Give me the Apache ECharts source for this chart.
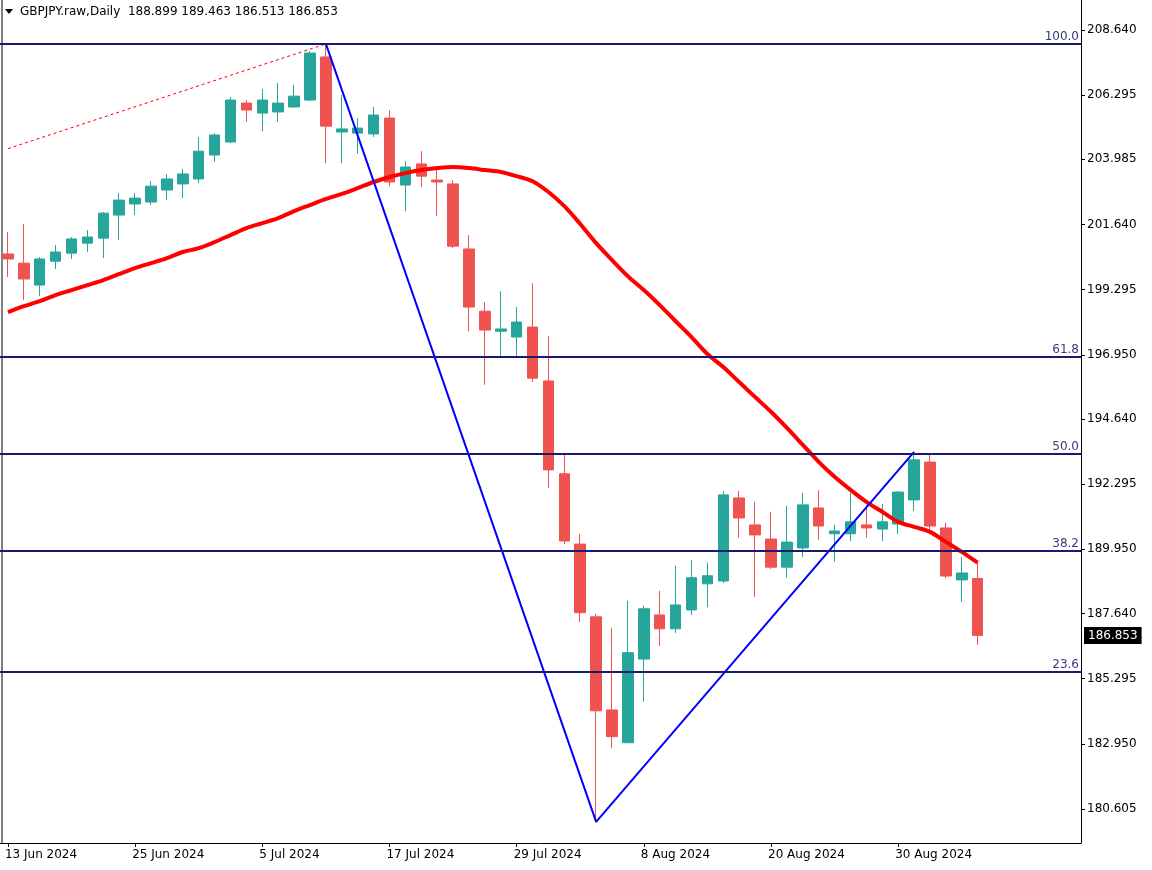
<!DOCTYPE html>
<html><head><meta charset="utf-8">
<script src="https://cdn.jsdelivr.net/npm/echarts@6/dist/echarts.min.js"></script>
<style>html,body{margin:0;padding:0;background:#fff}#c{width:1152px;height:870px}</style>
</head><body><div id="c"></div>
<script>
const dates = ['13 Jun 2024','14 Jun 2024','17 Jun 2024','18 Jun 2024','19 Jun 2024','20 Jun 2024','21 Jun 2024','24 Jun 2024','25 Jun 2024','26 Jun 2024','27 Jun 2024','28 Jun 2024',
'1 Jul 2024','2 Jul 2024','3 Jul 2024','4 Jul 2024','5 Jul 2024','8 Jul 2024','9 Jul 2024','10 Jul 2024','11 Jul 2024','12 Jul 2024','15 Jul 2024','16 Jul 2024','17 Jul 2024','18 Jul 2024','19 Jul 2024','22 Jul 2024','23 Jul 2024','24 Jul 2024','25 Jul 2024','26 Jul 2024','29 Jul 2024','30 Jul 2024','31 Jul 2024',
'1 Aug 2024','2 Aug 2024','5 Aug 2024','6 Aug 2024','7 Aug 2024','8 Aug 2024','9 Aug 2024','12 Aug 2024','13 Aug 2024','14 Aug 2024','15 Aug 2024','16 Aug 2024','19 Aug 2024','20 Aug 2024','21 Aug 2024','22 Aug 2024','23 Aug 2024','26 Aug 2024','27 Aug 2024','28 Aug 2024','29 Aug 2024','30 Aug 2024',
'2 Sep 2024','3 Sep 2024','4 Sep 2024','5 Sep 2024','6 Sep 2024'];
const padSlots = ['','','','','',''];
const opens  = [200.58,200.25,199.46,200.32,200.61,200.97,201.15,201.98,202.38,202.45,202.88,203.10,203.28,204.14,204.61,206.01,205.65,205.69,205.87,206.12,207.67,204.97,204.93,204.90,205.47,203.06,203.82,203.24,203.10,200.76,198.52,197.80,197.59,197.95,196.01,192.67,190.14,187.52,184.17,182.99,186.00,187.59,187.09,187.77,188.71,188.81,191.80,190.83,190.32,189.31,190.00,191.44,190.51,190.51,190.83,190.68,190.86,191.73,193.09,190.72,188.85,188.899];
const closes = [200.40,199.68,200.40,200.65,201.12,201.19,202.05,202.52,202.59,203.02,203.28,203.46,204.28,204.86,206.12,205.76,206.12,206.01,206.26,207.81,205.18,205.08,205.11,205.58,203.17,203.71,203.38,203.17,200.86,198.67,197.84,197.88,198.13,196.11,192.81,190.25,187.67,184.14,183.21,186.23,187.81,187.09,187.95,188.93,189.00,191.91,191.08,190.47,189.31,190.21,191.55,190.79,190.61,190.94,190.72,190.94,192.01,193.17,190.79,188.99,189.10,186.853];
const highs  = [201.37,201.66,200.47,200.90,201.19,201.44,202.09,202.77,202.77,203.20,203.46,203.64,204.79,204.93,206.23,206.12,206.52,206.73,206.66,207.88,208.14,206.30,205.47,205.87,205.76,203.92,204.28,203.60,203.24,201.26,198.85,199.24,198.67,199.53,197.62,193.35,190.51,187.63,187.12,188.10,187.92,188.46,189.36,189.57,189.47,192.05,192.05,191.66,191.30,191.51,191.98,192.08,190.83,191.98,191.55,191.58,192.05,193.45,193.35,190.90,189.67,189.463];
const lows   = [199.75,198.92,199.06,200.04,200.40,200.65,200.43,201.08,201.98,202.34,202.52,202.59,203.13,203.89,204.57,205.33,205.00,205.33,205.83,206.08,203.85,203.85,204.18,204.79,203.02,202.12,202.99,201.94,200.79,197.80,195.87,196.87,196.87,195.97,192.16,190.14,187.34,180.14,182.80,182.99,184.47,186.47,186.94,187.59,187.87,188.74,190.36,188.24,189.24,188.93,189.68,190.29,189.50,190.25,190.36,190.25,190.50,191.33,190.50,188.92,188.06,186.513];
const maValues = [198.49,198.70,198.88,199.10,199.28,199.46,199.64,199.86,200.07,200.25,200.43,200.65,200.79,201.01,201.26,201.51,201.69,201.87,202.12,202.34,202.56,202.74,202.95,203.17,203.35,203.49,203.60,203.67,203.71,203.67,203.60,203.53,203.38,203.20,202.81,202.30,201.66,200.97,200.36,199.78,199.28,198.74,198.16,197.59,196.98,196.51,195.97,195.43,194.90,194.32,193.71,193.10,192.56,192.09,191.66,191.30,190.94,190.76,190.58,190.22,189.86,189.47];
const fibNames  = ['100.0','61.8','50.0','38.2','23.6'];
const fibPrices = [208.136,196.872,193.381,189.890,185.545];
const zigIdx = [20,37,57];
const zigVal = [208.14,180.14,193.46];
const trendIdx = [0,20];
const trendVal = [204.37,208.14];
const yTicks = [208.640,206.295,203.985,201.640,199.295,196.950,194.640,192.295,189.950,187.640,185.295,182.950,180.605];
const lastPrice = 186.853;
const header = 'GBPJPY.raw,Daily  188.899 189.463 186.513 186.853';

const cats = dates.concat(padSlots);
const candle = opens.map((o,i)=>[o,closes[i],lows[i],highs[i]]);
const chart = echarts.init(document.getElementById('c'));
const font = 'DejaVu Sans, Liberation Sans, sans-serif';
const tickShow = (i)=> i%8===0 && i<dates.length;
chart.setOption({
  animation:false,
  backgroundColor:'#fff',
  grid:{left:-7,top:0,width:68*16,bottom:27},
  xAxis:{type:'category',data:cats,boundaryGap:true,
    axisLine:{lineStyle:{color:'#000',width:1}},
    axisTick:{show:true,interval:tickShow,length:4,lineStyle:{color:'#000'},alignWithLabel:true},
    axisLabel:{interval:tickShow,align:'left',color:'#000',fontSize:12,fontFamily:font,margin:6,padding:[0,0,0,-3]},
    splitLine:{show:false}},
  yAxis:{type:'value',position:'right',min:179.382,max:209.72,scale:true,
    axisLine:{show:true,lineStyle:{color:'#000'}},
    axisTick:{show:true,customValues:yTicks,length:4,inside:false,lineStyle:{color:'#000'}},
    axisLabel:{customValues:yTicks,color:'#000',fontSize:12,fontFamily:font,margin:6,formatter:v=>v.toFixed(3)},
    splitLine:{show:false}},
  graphic:[
    {type:'line',shape:{x1:2,y1:0,x2:2,y2:843},style:{stroke:'#000',lineWidth:1}},
    {type:'polygon',shape:{points:[[5,9],[13,9],[9,14]]},style:{fill:'#000'}},
    {type:'text',left:20,top:6,style:{text:header,fill:'#000',font:'12px '+font}}
  ],
  series:[
    {type:'candlestick',data:candle,barWidth:11,
      itemStyle:{color:'#26a69a',color0:'#ef5350',borderColor:'#26a69a',borderColor0:'#ef5350',borderWidth:1},
      markLine:{silent:true,symbol:'none',animation:false,
        data:fibPrices.map((p,i)=>({yAxis:p,label:{formatter:fibNames[i]}})).concat([
          {yAxis:lastPrice,lineStyle:{color:'rgba(0,0,0,0)',width:0},label:{position:'end',formatter:lastPrice.toFixed(3),color:'#fff',backgroundColor:'#000',padding:[3,4,2,4],fontSize:12,fontFamily:font,distance:3}}
        ]),
        lineStyle:{color:'#191970',width:2,type:'solid'},
        label:{position:'insideEndTop',color:'#3a3a78',fontSize:12,fontFamily:font,distance:[2,1]}}},
    {type:'line',data:maValues,symbol:'none',smooth:0.3,lineStyle:{color:'#ff0000',width:4},z:3},
    {type:'line',data:zigIdx.map((x,i)=>[x,zigVal[i]]),symbol:'none',lineStyle:{color:'#0000ff',width:2},z:4},
    {type:'line',data:trendIdx.map((x,i)=>[x,trendVal[i]]),symbol:'none',lineStyle:{color:'#ff0000',width:1,type:[3,3]},z:4}
  ]
});
</script></body></html>
